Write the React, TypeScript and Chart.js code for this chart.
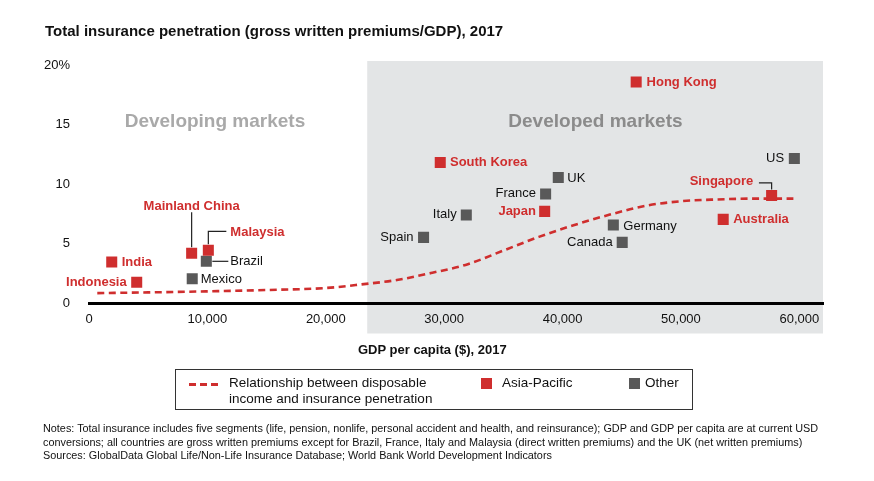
import { useEffect, useRef } from 'react'
import { Chart, registerables } from 'chart.js'
Chart.register(...registerables)

// Asia-Pacific markets: GDP per capita ($) and insurance penetration (%)
const asiaNames = ['Indonesia', 'India', 'Mainland China', 'Malaysia', 'Hong Kong', 'South Korea', 'Japan', 'Singapore', 'Australia']
const asiaGdp = [4030, 1920, 8670, 10080, 46220, 29670, 38490, 57660, 53570]
const asiaPen = [1.78, 3.48, 4.21, 4.46, 18.59, 11.84, 7.73, 9.07, 7.06]

// other markets
const otherNames = ['Brazil', 'Mexico', 'Spain', 'Italy', 'UK', 'France', 'Germany', 'Canada', 'US']
const otherGdp = [9910, 8720, 28260, 31870, 39640, 38570, 44290, 45040, 59580]
const otherPen = [3.54, 2.08, 5.55, 7.42, 10.58, 9.18, 6.58, 5.13, 12.17]

// relationship curve
const curveGdp = [700, 5000, 10000, 15000, 20000, 23000, 26000, 29000, 32000, 35000, 38000, 41000, 44000, 47000, 50000, 53000, 56000, 59500]
const curvePen = [0.87, 0.93, 1.02, 1.13, 1.3, 1.6, 1.97, 2.58, 3.3, 4.44, 5.59, 6.59, 7.46, 8.2, 8.58, 8.73, 8.8, 8.8]

const xTicks = [0, 10000, 20000, 30000, 40000, 50000, 60000]
const yTicks = [0, 5, 10, 15, 20]
const developedFrom = 23500

const RED = '#cf2e2e'
const GREY = '#595959'
const FONT = 'Arial, "Liberation Sans", Helvetica, sans-serif'

type Place = { align: CanvasTextAlign; dx: number; dy: number; leader?: [number, number][] }
const placement: Record<string, Place> = {
  'Indonesia': { align: 'right', dx: -10, dy: 0 },
  'India': { align: 'left', dx: 10, dy: 0 },
  'Mainland China': { align: 'center', dx: 0, dy: -47, leader: [[0, -6], [0, -41]] },
  'Malaysia': { align: 'left', dx: 22, dy: -17.6, leader: [[0, -6], [0, -19], [18, -19]] },
  'Brazil': { align: 'left', dx: 24, dy: 0, leader: [[6, 0], [22, 0]] },
  'Mexico': { align: 'left', dx: 8.5, dy: 0.5 },
  'Spain': { align: 'right', dx: -10, dy: 0 },
  'Italy': { align: 'right', dx: -9.6, dy: -0.5 },
  'Hong Kong': { align: 'left', dx: 10.4, dy: 0 },
  'South Korea': { align: 'left', dx: 9.7, dy: 0.5 },
  'UK': { align: 'left', dx: 9, dy: 0.5 },
  'France': { align: 'right', dx: -9.7, dy: -0.5 },
  'Japan': { align: 'right', dx: -8.7, dy: 0 },
  'Germany': { align: 'left', dx: 10, dy: 1 },
  'Canada': { align: 'right', dx: -9.6, dy: 0 },
  'US': { align: 'right', dx: -10.3, dy: 0.4 },
  'Singapore': { align: 'right', dx: -18.4, dy: -14.3, leader: [[-12.7, -12.6], [0, -12.6], [0, -6]] },
  'Australia': { align: 'left', dx: 10, dy: 0 },
}

const zonesPlugin = {
  id: 'zones',
  beforeDraw(chart: any) {
    const { ctx, chartArea, scales } = chart
    const x0 = scales.x.getPixelForValue(developedFrom)
    ctx.save()
    ctx.fillStyle = '#e3e5e6'
    ctx.fillRect(x0, chartArea.top, chartArea.right - x0, chartArea.bottom - chartArea.top + 30)
    ctx.font = `bold 19px ${FONT}`
    ctx.textAlign = 'center'
    ctx.textBaseline = 'middle'
    ctx.fillStyle = '#a9a9a9'
    ctx.fillText('Developing markets', scales.x.getPixelForValue(10640), scales.y.getPixelForValue(15.25))
    ctx.fillStyle = '#8b8b8b'
    ctx.fillText('Developed markets', scales.x.getPixelForValue(42780), scales.y.getPixelForValue(15.25))
    ctx.restore()
  },
}

const labelsPlugin = {
  id: 'pointLabels',
  afterDatasetsDraw(chart: any) {
    const { ctx } = chart
    ctx.save()
    chart.data.datasets.forEach((ds: any, di: number) => {
      if (!ds.names) return
      const meta = chart.getDatasetMeta(di)
      const asia = ds.label === 'Asia-Pacific'
      ds.names.forEach((name: string, i: number) => {
        const pt = meta.data[i]
        const p = placement[name]
        if (!pt || !p) return
        if (p.leader) {
          ctx.strokeStyle = '#222'
          ctx.lineWidth = 1.2
          ctx.beginPath()
          p.leader.forEach(([lx, ly], k) => {
            if (k === 0) ctx.moveTo(pt.x + lx, pt.y + ly)
            else ctx.lineTo(pt.x + lx, pt.y + ly)
          })
          ctx.stroke()
        }
        ctx.font = asia ? `bold 13px ${FONT}` : `13px ${FONT}`
        ctx.fillStyle = asia ? RED : '#111'
        ctx.textAlign = p.align
        ctx.textBaseline = 'middle'
        ctx.fillText(name, pt.x + p.dx, pt.y + p.dy)
      })
    })
    ctx.restore()
  },
}

function InsuranceChart() {
  const ref = useRef<HTMLCanvasElement>(null)
  const inst = useRef<Chart | null>(null)

  useEffect(() => {
    if (!ref.current) return
    inst.current?.destroy()
    inst.current = new Chart(ref.current, {
      type: 'scatter',
      data: {
        datasets: [
          {
            label: 'Asia-Pacific',
            names: asiaNames,
            data: asiaGdp.map((x, i) => ({ x, y: asiaPen[i] })),
            backgroundColor: RED, borderWidth: 0, pointStyle: 'rect', pointRadius: 7.8, pointHoverRadius: 7.8,
          } as any,
          {
            label: 'Other',
            names: otherNames,
            data: otherGdp.map((x, i) => ({ x, y: otherPen[i] })),
            backgroundColor: GREY, borderWidth: 0, pointStyle: 'rect', pointRadius: 7.8, pointHoverRadius: 7.8,
          } as any,
          {
            type: 'line',
            label: 'Relationship between disposable income and insurance penetration',
            data: curveGdp.map((x, i) => ({ x, y: curvePen[i] })),
            borderColor: RED, borderWidth: 2.6, borderDash: [7, 4.5], pointRadius: 0,
            cubicInterpolationMode: 'monotone', fill: false, showLine: true,
          } as any,
        ],
      },
      options: {
        animation: false,
        responsive: true, maintainAspectRatio: false,
        events: [],
        layout: { padding: { left: 39, right: 51, top: 61, bottom: 147.5 } },
        plugins: { legend: { display: false }, tooltip: { enabled: false }, title: { display: false } },
        scales: {
          x: {
            type: 'linear', min: 0, max: 62000,
            grid: { display: false, drawTicks: false, tickLength: 0 },
            border: { display: true, width: 3, color: '#000' },
            ticks: { padding: 8, color: '#111', font: { size: 13, family: FONT }, callback: (v: any) => Number(v).toLocaleString('en-US') },
            afterBuildTicks: (s: any) => { s.ticks = xTicks.map(value => ({ value })) },
            afterFit: (s: any) => { s.height = 30 },
          },
          y: {
            type: 'linear', min: 0, max: 20.35,
            grid: { display: false, drawTicks: false, tickLength: 0 },
            border: { display: false },
            ticks: { padding: 19, color: '#111', font: { size: 13, family: FONT }, callback: (v: any) => (v === 20 ? '20%' : String(v)) },
            afterBuildTicks: (s: any) => { s.ticks = yTicks.map(value => ({ value })) },
            afterFit: (s: any) => { s.width = 50 },
          },
        },
      },
      plugins: [zonesPlugin, labelsPlugin],
    })
    return () => { inst.current?.destroy() }
  }, [])

  return (
    <div style={{ position: 'absolute', left: 0, top: 0, width: 874, height: 481 }}>
      <canvas ref={ref} />
    </div>
  )
}

export default function App() {
  const txt = { position: 'absolute' as const, fontFamily: FONT, color: '#111', whiteSpace: 'nowrap' as const }
  return (
    <div style={{ position: 'absolute', left: 0, top: 0, width: 874, height: 481, background: '#fff', overflow: 'hidden' }}>
      <InsuranceChart />
      <div style={{ ...txt, left: 45, top: 22, fontSize: 15, fontWeight: 700, lineHeight: '18px' }}>
        Total insurance penetration (gross written premiums/GDP), 2017
      </div>
      <div style={{ ...txt, left: 358, top: 341, fontSize: 13, fontWeight: 700, lineHeight: '18px' }}>
        GDP per capita ($), 2017
      </div>
      <div style={{ position: 'absolute', left: 175, top: 369, width: 518, height: 41, border: '1px solid #333', boxSizing: 'border-box' }}>
        <div style={{ position: 'absolute', left: 13, top: 13, width: 29, height: 2.6, background: `repeating-linear-gradient(to right, ${RED} 0 7px, transparent 7px 11.2px)` }} />
        <div style={{ ...txt, left: 53, top: 5, fontSize: 13.5, lineHeight: '16px' }}>
          Relationship between disposable<br />income and insurance penetration
        </div>
        <div style={{ position: 'absolute', left: 305, top: 8, width: 11, height: 11, background: RED }} />
        <div style={{ ...txt, left: 326, top: 5, fontSize: 13.5, lineHeight: '16px' }}>Asia-Pacific</div>
        <div style={{ position: 'absolute', left: 453, top: 8, width: 11, height: 11, background: GREY }} />
        <div style={{ ...txt, left: 469, top: 5, fontSize: 13.5, lineHeight: '16px' }}>Other</div>
      </div>
      <div style={{ ...txt, left: 43, top: 422, fontSize: 10.85, lineHeight: '13.5px' }}>
        Notes: Total insurance includes five segments (life, pension, nonlife, personal accident and health, and reinsurance); GDP and GDP per capita are at current USD<br />
        conversions; all countries are gross written premiums except for Brazil, France, Italy and Malaysia (direct written premiums) and the UK (net written premiums)<br />
        Sources: GlobalData Global Life/Non-Life Insurance Database; World Bank World Development Indicators
      </div>
    </div>
  )
}
